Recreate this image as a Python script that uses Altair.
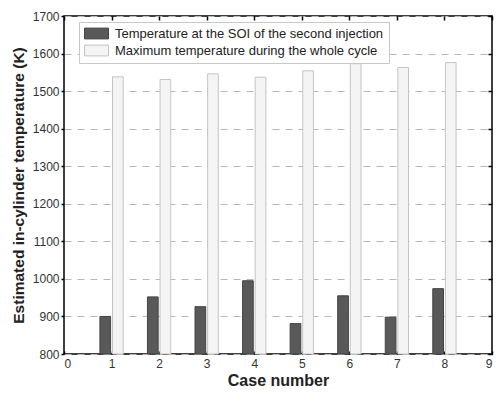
import altair as alt
import pandas as pd

cases = [1, 2, 3, 4, 5, 6, 7, 8]
soi_temp = [900, 952, 926, 995, 881, 955, 898, 974]
max_temp = [1538, 1531, 1546, 1537, 1554, 1573, 1563, 1576]
series_names = ["Temperature at the SOI of the second injection",
                "Maximum temperature during the whole cycle"]
bar_offsets = [(-0.245, -0.02), (0.02, 0.245)]
y_ticks = [800, 900, 1000, 1100, 1200, 1300, 1400, 1500, 1600, 1700]
x_ticks = [0, 1, 2, 3, 4, 5, 6, 7, 8, 9]

rows = []
for i, c in enumerate(cases):
    for s, vals in enumerate([soi_temp, max_temp]):
        rows.append({"case": c, "series": series_names[s], "value": vals[i],
                     "lo": bar_offsets[s][0], "hi": bar_offsets[s][1], "base": 800})
df = pd.DataFrame(rows)

FONT = "Liberation Sans"
xscale = alt.Scale(domain=[0, 9], nice=False, zero=False)
yscale = alt.Scale(domain=[800, 1700], nice=False, zero=False)

bars = alt.Chart(df).transform_calculate(
    x1="datum.case + datum.lo", x2="datum.case + datum.hi"
).mark_bar(strokeWidth=1).encode(
    x=alt.X("x1:Q", scale=xscale, title="Case number",
            axis=alt.Axis(orient="bottom", values=x_ticks, format="d", grid=False,
                          domain=False, ticks=True, tickSize=3, offset=-3,
                          tickColor="black", tickWidth=1.5,
                          labelPadding=4, labelFontSize=12, labelColor="#333",
                          labelFont=FONT, titleFont=FONT, titleFontSize=16,
                          titleFontWeight="bold", titleColor="#222", titlePadding=3)),
    x2="x2:Q",
    y=alt.Y("value:Q", scale=yscale, title="Estimated in-cylinder temperature (K)",
            axis=alt.Axis(orient="left", values=y_ticks, format="d", grid=True,
                          gridDash=[7, 6], gridColor="#b8b8b8", gridWidth=1,
                          domain=False, tickSize=3, tickColor="black", tickWidth=1.5,
                          labelPadding=2, labelFontSize=12, labelColor="#333",
                          labelFont=FONT, titleFont=FONT, titleFontSize=15.5,
                          titleFontWeight="bold", titleColor="#222", titlePadding=6)),
    y2="base:Q",
    fill=alt.Fill("series:N", sort=series_names,
                  scale=alt.Scale(domain=series_names, range=["#595959", "#f4f4f4"]),
                  legend=alt.Legend(title=None, orient="none", legendX=15, legendY=6,
                                    labelFont=FONT, labelFontSize=13, labelColor="#222",
                                    labelLimit=0,
                                    symbolType="M-2,-0.9H2V0.9H-2Z", symbolSize=144,
                                    symbolStrokeWidth=1, symbolOffset=6, labelOffset=12,
                                    rowPadding=2, padding=5, strokeColor="#c8c8c8",
                                    fillColor="white", cornerRadius=0)),
    stroke=alt.Stroke("series:N", sort=series_names,
                      scale=alt.Scale(domain=series_names, range=["#444444", "#c4c4c4"]),
                      legend=None),
)

frame = alt.Chart(df).mark_point(opacity=0).encode(
    x=alt.X("case:Q", scale=xscale,
            axis=alt.Axis(orient="top", values=x_ticks, labels=False, title=None,
                          domain=False, grid=False, tickSize=4, offset=-4,
                          tickColor="black", tickWidth=1.5)),
    y=alt.Y("value:Q", scale=yscale,
            axis=alt.Axis(orient="right", values=y_ticks, labels=False, title=None,
                          domain=False, grid=False, tickSize=4, offset=-4,
                          tickColor="black", tickWidth=1.5)),
)

chart = alt.layer(bars, frame).resolve_axis(x="independent", y="independent").properties(
    width=428, height=338,
    autosize=alt.AutoSizeParams(type="none"),
    padding={"left": 64, "top": 16, "right": 4, "bottom": 41},
    background="white",
).configure_view(stroke="black", strokeWidth=1.5)

chart.save("out.html", embed_options={"renderer": "svg", "actions": False})
